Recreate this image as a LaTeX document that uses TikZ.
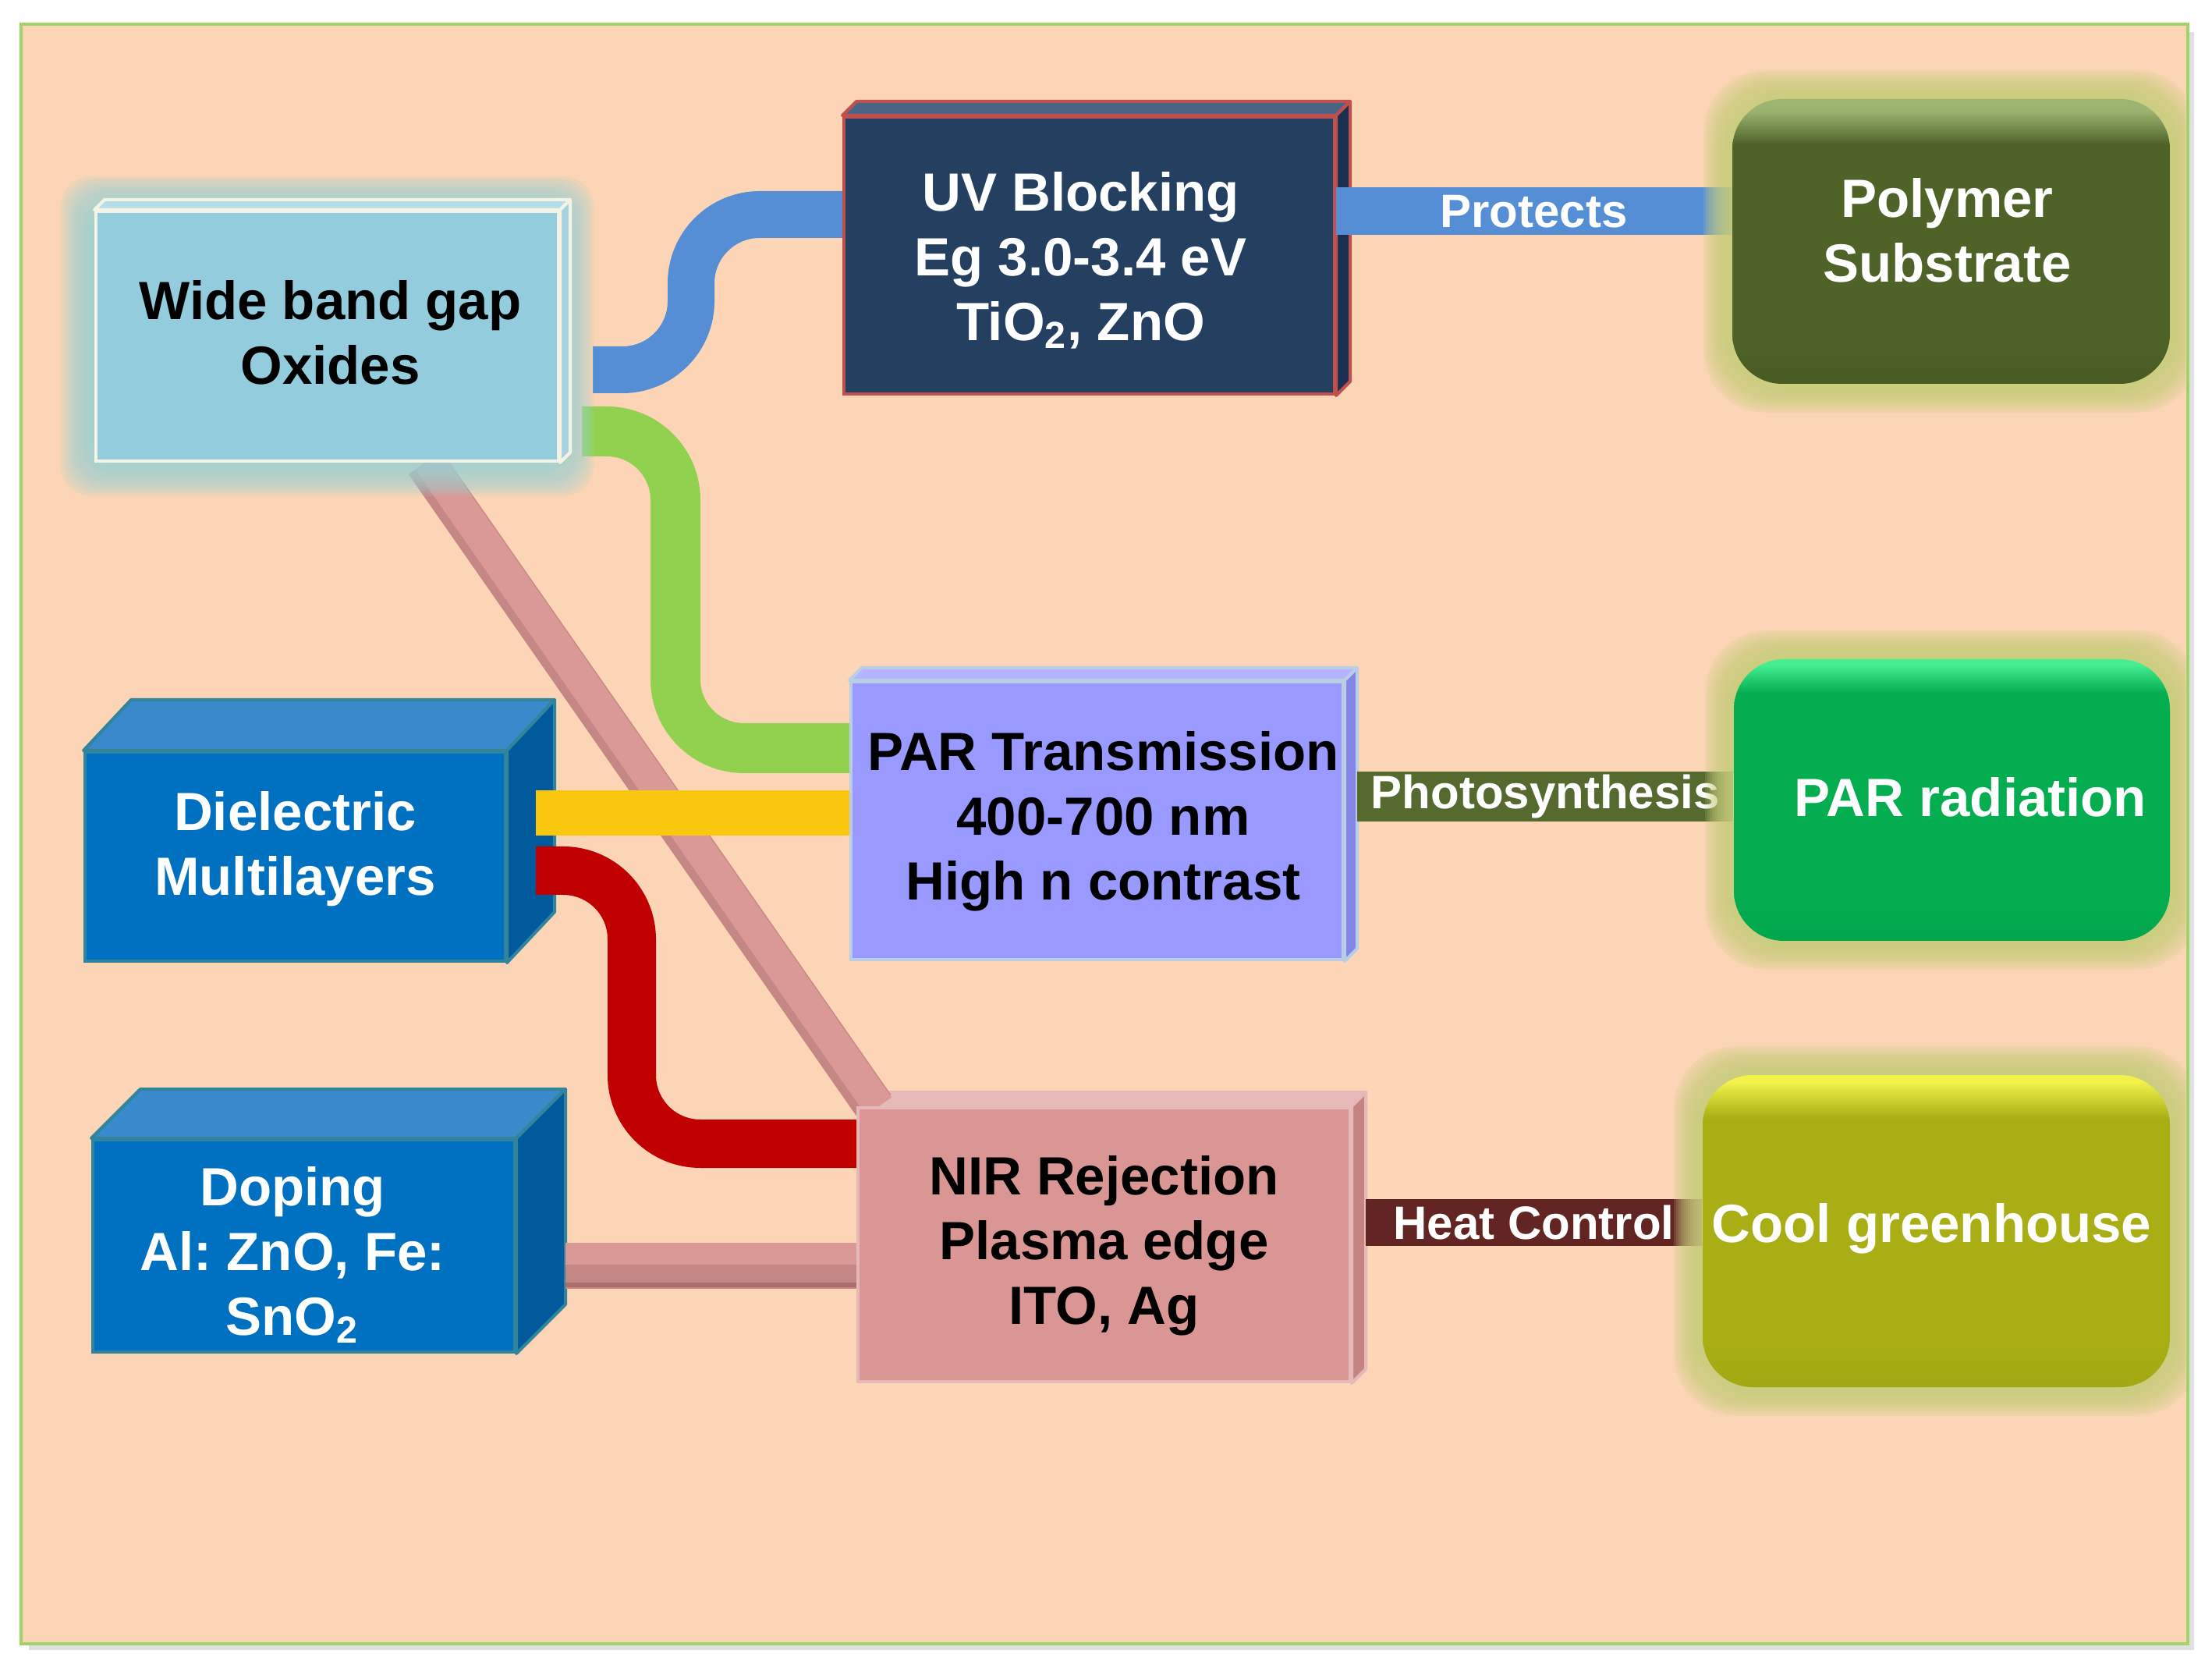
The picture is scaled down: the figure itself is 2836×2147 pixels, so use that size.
\documentclass[tikz,border=0pt]{standalone}
\usepackage{fontspec}
\setmainfont{Liberation Sans}
\usetikzlibrary{calc}
\pgfdeclarelayer{back}
\pgfdeclarelayer{faces}
\pgfdeclarelayer{conn}
\pgfdeclarelayer{glowl}
\pgfsetlayers{back,faces,conn,glowl,main}
\definecolor{panel}{HTML}{FBD5B5}
\definecolor{panelline}{HTML}{A0D468}
\definecolor{wbgfill}{HTML}{93CDDD}
\definecolor{cream}{HTML}{F5F3E6}
\definecolor{wbgtop}{HTML}{B7DEE8}
\definecolor{wbgside}{HTML}{A6D3DF}
\definecolor{uvfill}{HTML}{243F60}
\definecolor{uvline}{HTML}{C0504D}
\definecolor{uvtop}{HTML}{4A6484}
\definecolor{uvside}{HTML}{1B3050}
\definecolor{polytop}{HTML}{9CB470}
\definecolor{polymid}{HTML}{4F6228}
\definecolor{polybot}{HTML}{485A23}
\definecolor{parfill}{HTML}{9999FF}
\definecolor{parline}{HTML}{B9CDE5}
\definecolor{partop}{HTML}{B3B3FF}
\definecolor{parside}{HTML}{8585E8}
\definecolor{parrfill}{HTML}{03AD50}
\definecolor{parrtop}{HTML}{45EE90}
\definecolor{parrbot}{HTML}{02A64C}
\definecolor{dielfill}{HTML}{0070C0}
\definecolor{dieltop}{HTML}{3A8ACB}
\definecolor{dielside}{HTML}{005A9C}
\definecolor{dielline}{HTML}{31849B}
\definecolor{nirfill}{HTML}{D99694}
\definecolor{nirline}{HTML}{E6B9B8}
\definecolor{nirtop}{HTML}{E6B9B8}
\definecolor{nirside}{HTML}{C58482}
\definecolor{coolfill}{HTML}{A8AE14}
\definecolor{cooltop}{HTML}{F2F24A}
\definecolor{coolbot}{HTML}{A2A812}
\definecolor{blueconn}{HTML}{558ED5}
\definecolor{greenconn}{HTML}{92D050}
\definecolor{yellowconn}{HTML}{F9C80E}
\definecolor{redconn}{HTML}{C00000}
\definecolor{pinkconn}{HTML}{DA9896}
\definecolor{pinkmid}{HTML}{C58785}
\definecolor{pinkdark}{HTML}{A86F6E}
\definecolor{photoconn}{HTML}{566A30}
\definecolor{heatconn}{HTML}{632523}
\definecolor{aquaglow}{HTML}{9ED0D3}
\definecolor{oliveglow}{HTML}{C8CD7D}
\definecolor{yellowglow}{HTML}{C8CD7D}
\pgfdeclareverticalshading{polyshade}{100bp}{color(0bp)=(polybot); color(25bp)=(polybot); color(32bp)=(polymid); color(67bp)=(polymid); color(73bp)=(polytop); color(75bp)=(polytop); color(100bp)=(polytop)}
\pgfdeclareverticalshading{parrshade}{100bp}{color(0bp)=(parrbot); color(25bp)=(parrbot); color(32bp)=(parrfill); color(69bp)=(parrfill); color(74bp)=(parrtop); color(75bp)=(parrtop); color(100bp)=(parrtop)}
\pgfdeclareverticalshading{coolshade}{100bp}{color(0bp)=(coolbot); color(25bp)=(coolbot); color(32bp)=(coolfill); color(68bp)=(coolfill); color(74bp)=(cooltop); color(75bp)=(cooltop); color(100bp)=(cooltop)}
\newcommand\bigfnt{\bfseries\fontsize{17.25pt}{20.75pt}\selectfont}
\newcommand\lblfnt{\bfseries\fontsize{15pt}{18pt}\selectfont}
\newcommand\mvtext[3]{\hspace*{#1}\raisebox{#2}[\height][\depth]{\begin{tabular}{@{}c@{}}#3\end{tabular}}\hspace*{-#1}}
\newcommand\prism[6]{%
  \filldraw[fill=#4, draw=#6, line width=1pt, line join=round] (#1.north west) -- ++(#2,#3) -- ($(#1.north east)+(#2,#3)$) -- (#1.north east) -- cycle;
  \filldraw[fill=#5, draw=#6, line width=1pt, line join=round] (#1.north east) -- ++(#2,#3) -- ($(#1.south east)+(#2,#3)$) -- (#1.south east) -- cycle;}
\newcommand\glowaround[6]{%
  \foreach \k in {1,...,#4}{%
    \fill[#2, opacity=#6, rounded corners=#5] ($(#1.north west)+(-\k*#3,\k*#3)$) rectangle ($(#1.south east)+(\k*#3,-\k*#3)$);}}
\begin{document}
\frenchspacing
\begin{tikzpicture}[x=0.25pt,y=-0.25pt,
  tbox/.style={rectangle, inner sep=2pt, align=center, font=\bigfnt, line width=1pt},
  rbox/.style={rectangle, rounded corners=16pt, inner sep=2pt, align=center, font=\bigfnt, text=white},
  lbl/.style={font=\lblfnt, text=white, inner sep=0pt},
  band/.style={line cap=butt, line join=round}]
\useasboundingbox (0,0) rectangle (2836,2147);
\begin{pgfonlayer}{back}
\fill[white] (0,0) rectangle (2836,2147);
\fill[black, opacity=0.12] (37,41) rectangle (2813,2115);
\draw[fill=panel, draw=panelline, line width=1.2pt] (27,31) rectangle (2805,2107);
\end{pgfonlayer}

% nodes
\node[tbox, fill=wbgfill, draw=cream, minimum width=148.25pt, minimum height=80pt] (wbg) at (419.5,431) {\mvtext{1pt}{-0.75pt}{Wide band gap\\Oxides}};
\node[tbox, fill=uvfill, draw=uvline, text=white, minimum width=157.25pt, minimum height=88.75pt] (uv) at (1396.5,327.5) {\mvtext{-2.75pt}{-2.25pt}{UV Blocking\\Eg 3.0-3.4 eV\\TiO\textsubscript{2}, ZnO}};
\node[rbox, shading=polyshade, minimum width=140.25pt, minimum height=91.25pt] (poly) at (2501.5,309.5) {\mvtext{-1.25pt}{1.5pt}{Polymer\\Substrate}};
\node[tbox, fill=parfill, draw=parline, minimum width=157.75pt, minimum height=89pt] (par) at (1406.5,1052) {\mvtext{2pt}{-0.5pt}{PAR Transmission\\400-700 nm\\High n contrast}};
\node[rbox, shading=parrshade, minimum width=139.75pt, minimum height=90.25pt] (parr) at (2502.5,1025.5) {\mvtext{6pt}{-1pt}{PAR radiation}};
\node[tbox, fill=dielfill, draw=dielline, text=white, minimum width=134.75pt, minimum height=67pt] (diel) at (378.5,1098) {\mvtext{0pt}{2.25pt}{Dielectric\\Multilayers}};
\node[tbox, fill=dielfill, draw=dielline, text=white, minimum width=135.25pt, minimum height=68pt] (dop) at (389.5,1597) {\mvtext{-3.6pt}{-3.6pt}{Doping\\Al: ZnO, Fe:\\SnO\textsubscript{2}}};
\node[tbox, fill=nirfill, draw=nirline, minimum width=157.75pt, minimum height=87.75pt] (nir) at (1415.5,1595.5) {\mvtext{0pt}{-0.5pt}{NIR Rejection\\Plasma edge\\ITO, Ag}};
\node[rbox, shading=coolshade, minimum width=149.75pt, minimum height=100pt] (cool) at (2482.5,1578) {\mvtext{-1.5pt}{0.5pt}{Cool greenhouse}};

% 3D faces
\begin{pgfonlayer}{faces}
\prism{diel}{15.25pt}{16.25pt}{dieltop}{dielside}{dielline}
\prism{dop}{15.75pt}{15.75pt}{dieltop}{dielside}{dielline}
\prism{uv}{4.5pt}{4.5pt}{uvtop}{uvside}{uvline}
\prism{par}{4pt}{4pt}{partop}{parside}{parline}
\prism{nir}{4.5pt}{4.5pt}{nirtop}{nirside}{nirline}
\end{pgfonlayer}
\prism{wbg}{3.25pt}{3.25pt}{wbgtop}{wbgside}{cream}

% connectors
\begin{pgfonlayer}{conn}
\draw[band, pinkmid, line width=13pt] (wbg.south -| 545,0) -- (nir.north -| 1121,0);
\draw[band, pinkconn, line width=10pt] ($(wbg.south -| 545,0)+(1.4pt,0)$) -- ($(nir.north -| 1121,0)+(1.4pt,0)$);
\draw[band, blueconn, line width=15pt, rounded corners=22pt] ($(wbg.east |- 0,474)+(10.5pt,0)$) -- (886,474) -- (886,275) -- (uv.west |- 0,275);
\draw[band, greenconn, line width=16pt, rounded corners=22pt] ($(wbg.east |- 0,553)+(7pt,0)$) -- (866,553) -- (866,959) -- (par.west |- 0,959);
\draw[band, yellowconn, line width=14.5pt] ($(diel.east |- 0,1042)+(9.25pt,0)$) -- (par.west |- 0,1042);
\draw[band, redconn, line width=15.5pt, rounded corners=22pt] ($(diel.east |- 0,1116)+(9.25pt,0)$) -- (810,1116) -- (810,1466) -- (nir.west |- 0,1466);
\draw[band, pinkmid, line width=14.75pt] ($(dop.east |- 0,1622)+(15.75pt,0)$) -- (nir.west |- 0,1622);
\draw[band, pinkconn, line width=7pt] ($(dop.east |- 0,1607)+(15.75pt,0)$) -- (nir.west |- 0,1607);
\draw[band, pinkdark, line width=1.5pt] ($(dop.east |- 0,1647)+(15.75pt,0)$) -- (nir.west |- 0,1647);
\draw[band, blueconn, line width=15.25pt] (uv.east |- 0,271) -- node[lbl]{Protects} (poly.west |- 0,271);
\draw[band, photoconn, line width=16pt] ($(par.east |- 0,1021)+(4pt,0)$) -- node[lbl]{Photosynthesis} (parr.west |- 0,1021);
\draw[band, heatconn, line width=15pt] ($(nir.east |- 0,1567)+(4.5pt,0)$) -- node[lbl]{Heat Control} (cool.west |- 0,1567);
\end{pgfonlayer}

% glows
\begin{pgfonlayer}{glowl}
\begin{scope}
\clip (30,34) rectangle (2802,2104);
\glowaround{wbg}{aquaglow}{0.9pt}{12}{10pt}{0.16}
\glowaround{poly}{oliveglow}{0.75pt}{12}{20pt}{0.18}
\glowaround{parr}{oliveglow}{0.75pt}{12}{20pt}{0.18}
\glowaround{cool}{yellowglow}{0.75pt}{12}{20pt}{0.18}
\end{scope}
\end{pgfonlayer}
\end{tikzpicture}
\end{document}
